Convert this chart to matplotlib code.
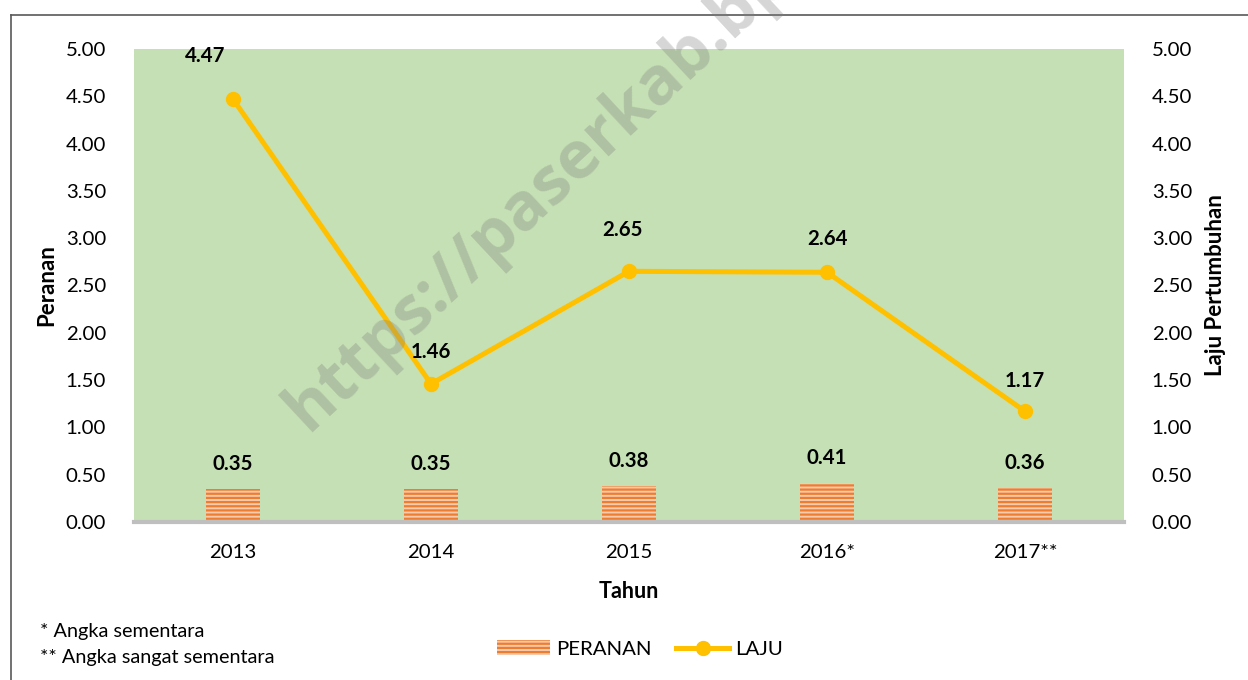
import matplotlib
matplotlib.use("Agg")
import matplotlib.pyplot as plt
from matplotlib.lines import Line2D
from matplotlib.patches import Patch

# ---- data ----
years = ["2013", "2014", "2015", "2016*", "2017**"]
peranan = [0.35, 0.35, 0.38, 0.41, 0.36]
laju = [4.47, 1.46, 2.65, 2.64, 1.17]
y_ticks = [0, 0.5, 1, 1.5, 2, 2.5, 3, 3.5, 4, 4.5, 5]
footnotes = ["* Angka sementara", "** Angka sangat sementara"]

# label offsets (layout only, in points)
line_label_dy = [31, 23, 30, 24, 22]
line_label_dx = [-20, 0, -5, 0, 0]

plt.rcParams['font.family'] = ['Lato', 'DejaVu Sans']
plt.rcParams['hatch.linewidth'] = 1.6
plt.rcParams['hatch.color'] = '#ED7D31'

FS = 14.7
W, H = 1248, 680
fig = plt.figure(figsize=(W / 100, H / 100), dpi=100)
ax = fig.add_axes([134 / W, 1 - 522 / H, 990 / W, 473 / H])
ax2 = ax.twinx()

ax.set_facecolor('#C5E0B4')
x = list(range(len(years)))

bars = ax.bar(x, peranan, width=0.27, color='#F8CBAD', edgecolor='#ED7D31',
              hatch='----', linewidth=0, zorder=2)
for xi, v in zip(x, peranan):
    ax.annotate(f"{v:.2f}", (xi, v), xytext=(0, 18), textcoords='offset points',
                ha='center', va='center', fontsize=FS, fontweight='bold', color='black')

ax2.plot(x, laju, color='#FFC000', linewidth=3.6, marker='o', markersize=10,
         zorder=3)
for xi, v, dx, dy in zip(x, laju, line_label_dx, line_label_dy):
    ax2.annotate(f"{v:.2f}", (xi, v), xytext=(dx, dy), textcoords='offset points',
                 ha='center', va='center', fontsize=FS, fontweight='bold', color='black')

for a in (ax, ax2):
    a.set_ylim(0, 5)
    a.set_yticks(y_ticks)
    a.set_yticklabels([f"{t:.2f}" for t in y_ticks], fontsize=FS)
    a.tick_params(axis='both', length=0, pad=20)
    for s in a.spines.values():
        s.set_visible(False)
ax.set_xlim(-0.5, len(years) - 0.5)
ax.set_xticks(x)
ax.set_xticklabels(years, fontsize=FS)
ax.tick_params(axis='x', pad=16)
ax.axhline(0, color='#BFBFBF', linewidth=3, zorder=4, clip_on=False)

ax.set_ylabel("Peranan", fontsize=16, fontweight='bold')
ax2.set_ylabel("Laju Pertumbuhan", fontsize=16, fontweight='bold')
ax.set_xlabel("Tahun", fontsize=15.5, fontweight='bold')
ax.yaxis.set_label_coords((47 - 134) / 990, 0.5)
ax2.yaxis.set_label_coords((1215 - 134) / 990, 0.5)
ax.xaxis.set_label_coords(0.5, -(591 - 522) / 473)
ax.xaxis.label.set_va('center')
ax.yaxis.label.set_va('center')
ax2.yaxis.label.set_va('center')

# footnotes
fig.text(40 / W, 1 - 631 / H, footnotes[0], fontsize=14.3, va='center', ha='left')
fig.text(40 / W, 1 - 657 / H, footnotes[1], fontsize=14.3, va='center', ha='left')

# legend
handles = [Patch(facecolor='#F8CBAD', edgecolor='#ED7D31', hatch='----', linewidth=0),
           Line2D([0], [0], color='#FFC000', linewidth=3.6, marker='o', markersize=10)]
fig.legend(handles, ["PERANAN", "LAJU"], loc='center', bbox_to_anchor=(640 / W, 1 - 649 / H),
           ncol=2, frameon=False, fontsize=FS, handlelength=2.6, columnspacing=1.2,
           handletextpad=0.3)

# outer frame (left and top edges)
fig.add_artist(Line2D([11 / W, 11 / W], [0, 1 - 15 / H], transform=fig.transFigure,
                      color='#595959', linewidth=1.2))
fig.add_artist(Line2D([11 / W, 1], [1 - 15 / H, 1 - 15 / H], transform=fig.transFigure,
                      color='#595959', linewidth=1.2))

# watermark
fig.text(308 / W, 1 - 432 / H, "https://paserkab.bps.go.id", rotation=43,
         rotation_mode='anchor', ha='left', va='baseline', fontsize=48,
         fontfamily='Open Sans', fontweight='bold', color='#808080', alpha=0.32,
         zorder=10, clip_on=True)

fig.savefig("out.png", dpi=100)
